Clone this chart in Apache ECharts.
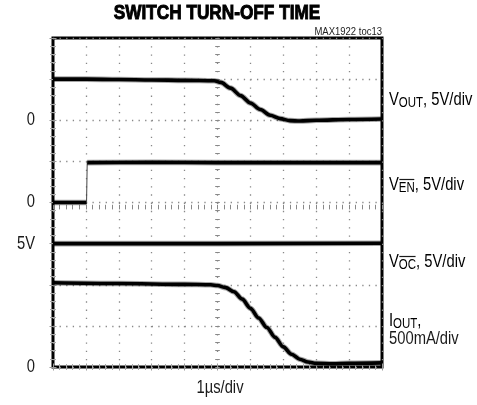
<!DOCTYPE html>
<html>
<head>
<meta charset="utf-8">
<script src="https://cdn.jsdelivr.net/npm/echarts@6/dist/echarts.min.js"></script>
<style>
  html, body { margin: 0; padding: 0; background: #fff; }
  #chart { width: 477px; height: 405px; }
</style>
</head>
<body>
<div id="chart"></div>
<script>
// scope traces, in screen divisions (x: 0..10, y: 0..8)
const vOutX = [0, 1, 2, 3, 4, 4.9, 5.1, 5.4, 5.7, 6.0, 6.3, 6.6, 6.9, 7.2, 7.5, 8, 9, 10];
const vOutY = [7.0, 7.0, 6.99, 6.98, 6.97, 6.96, 6.92, 6.78, 6.6, 6.42, 6.26, 6.12, 6.04, 5.99, 5.98, 6.0, 6.02, 6.03];

const vEnLowX = [0, 1.02];
const vEnLowY = [4.0, 4.0];
const vEnEdgeX = [1.02, 1.04];
const vEnEdgeY = [4.0, 4.97];
const vEnHighX = [1.04, 3, 5, 7, 10];
const vEnHighY = [4.97, 4.98, 4.97, 4.97, 4.97];

const vOcX = [0, 5, 10];
const vOcY = [3.0, 3.0, 3.01];

const iOutX = [0, 2, 4, 4.8, 5.0, 5.25, 5.5, 5.75, 6.0, 6.25, 6.5, 6.75, 7.0, 7.25, 7.5, 7.75, 8.0, 8.5, 9, 10];
const iOutY = [2.05, 2.03, 2.01, 2.0, 1.98, 1.93, 1.83, 1.65, 1.43, 1.19, 0.96, 0.72, 0.49, 0.31, 0.19, 0.12, 0.09, 0.08, 0.09, 0.1];

// left-hand level markers
const yTickValues = [6, 4, 3, 0];
const yTickLabels = ['0', '0', '5V', '0'];

const FONT = '"Liberation Sans", Arial, sans-serif';
const SX = 0.82; // squeeze to look like a condensed face
const INK = '#1a1a1a';

const measureCtx = document.createElement('canvas').getContext('2d');
function textW(str, size) {
  measureCtx.font = size + 'px ' + FONT;
  return measureCtx.measureText(str).width * SX;
}

function zip(xs, ys) {
  return xs.map((x, i) => [x, ys[i]]);
}

function trace(xs, ys, opts) {
  opts = opts || {};
  const base = {
    type: 'line',
    data: zip(xs, ys),
    showSymbol: false,
    silent: true,
    smooth: opts.smooth || 0,
    smoothMonotone: 'x',
    animation: false
  };
  if (opts.thin) {
    return [{ ...base, lineStyle: { color: '#444', width: 1 } }];
  }
  return [
    { ...base, lineStyle: { color: 'rgba(0,0,0,0.35)', width: 5.6 } },
    { ...base, lineStyle: { color: '#000', width: 3.6 } }
  ];
}

const borderTicks = {
  axisLine: { show: false },
  axisLabel: { show: false },
  axisTick: { show: true, inside: true, length: 3.5, lineStyle: { color: '#999', width: 1 } },
  minorTick: { show: true, splitNumber: 5, length: 3, lineStyle: { color: '#aaa', width: 1 } },
  splitLine: { show: false }
};

const centerTicks = {
  axisLine: { show: false },
  axisLabel: { show: false },
  axisTick: { show: true, inside: false, length: 4.6, lineStyle: { color: '#888', width: 1 } },
  minorTick: { show: true, splitNumber: 5, length: 4.6, lineStyle: { color: '#888', width: 1 } },
  splitLine: { show: false }
};

const chart = echarts.init(document.getElementById('chart'), null, { renderer: 'canvas' });

chart.setOption({
  animation: false,
  backgroundColor: '#fff',
  grid: {
    left: 53, top: 38, width: 329, height: 329,
    show: true, borderColor: '#000', borderWidth: 3, backgroundColor: 'transparent'
  },
  xAxis: [
    {
      type: 'value', min: 0, max: 10, interval: 1, position: 'bottom',
      ...borderTicks,
      splitLine: { show: true, lineStyle: { color: '#888', width: 1.3, type: [1.3, 6.93] } }
    },
    { type: 'value', min: 0, max: 10, interval: 1, position: 'top', ...borderTicks },
    { type: 'value', min: 0, max: 10, interval: 1, position: 'bottom', offset: -166.8, ...centerTicks }
  ],
  yAxis: [
    {
      type: 'value', min: 0, max: 8, interval: 1, position: 'left',
      ...borderTicks,
      splitLine: { show: true, lineStyle: { color: '#888', width: 1.3, type: [1.3, 5.28] } }
    },
    { type: 'value', min: 0, max: 8, interval: 1, position: 'right', ...borderTicks },
    { type: 'value', min: 0, max: 8, interval: 1, position: 'left', offset: -166.8, ...centerTicks }
  ],
  series: [
    ...trace(vOutX, vOutY, { smooth: 0.3 }),
    ...trace(vEnLowX, vEnLowY),
    ...trace(vEnEdgeX, vEnEdgeY, { thin: true }),
    ...trace(vEnHighX, vEnHighY),
    ...trace(vOcX, vOcY),
    ...trace(iOutX, iOutY, { smooth: 0.3 })
  ]
});

// ---- text, drawn as graphic elements so the face can be condensed ----
const labelX = 389;
const mainSize = 18, subSize = 14;
const rich = {
  v: { fontSize: mainSize, fontFamily: FONT, color: INK, lineHeight: 20, verticalAlign: 'middle' },
  s: { fontSize: subSize, fontFamily: FONT, color: INK, lineHeight: 14, verticalAlign: 'bottom' }
};

function plainText(text, x, y, size, align, extra) {
  return {
    type: 'text', x: x, y: y, scaleX: SX, silent: true,
    style: Object.assign({
      text: text, fontFamily: FONT, fontSize: size, fill: INK,
      align: align, verticalAlign: 'middle'
    }, extra || {})
  };
}

function sideLabel(text, y) {
  return {
    type: 'text', x: labelX, y: y, scaleX: SX, silent: true,
    style: { text: text, rich: rich, align: 'left', verticalAlign: 'middle' }
  };
}

function overline(sub, y) {
  const x0 = labelX + textW('V', mainSize);
  return {
    type: 'line', silent: true,
    shape: { x1: x0 + 0.5, y1: y, x2: x0 + textW(sub, subSize) - 0.5, y2: y },
    style: { stroke: INK, lineWidth: 1.2 }
  };
}

const graphics = [
  plainText('SWITCH TURN-OFF TIME', 217, 13, 21, 'center', {
    fontWeight: 'bold', fill: '#000', stroke: '#000', lineWidth: 1
  }),
  {
    type: 'text', x: 382, y: 32, scaleX: 0.95, silent: true,
    style: { text: 'MAX1922 toc13', fontFamily: FONT, fontSize: 10, fill: '#222', align: 'right', verticalAlign: 'middle' }
  },
  plainText('1µs/div', 220, 388, 18, 'center'),
  sideLabel('{v|V}{s|OUT}{v|, 5V/div}', 100),
  sideLabel('{v|V}{s|EN}{v|, 5V/div}', 185),
  overline('EN', 179.5),
  sideLabel('{v|V}{s|OC}{v|, 5V/div}', 262),
  overline('OC', 256.5),
  sideLabel('{v|I}{s|OUT}{v|,}', 321),
  plainText('500mA/div', labelX, 339, 18, 'left')
];

// level markers placed through the y scale
yTickValues.forEach((v, i) => {
  const py = chart.convertToPixel({ yAxisIndex: 0 }, v);
  graphics.push(plainText(yTickLabels[i], 35, py, 18, 'right'));
});

chart.setOption({ graphic: graphics });
</script>
</body>
</html>
